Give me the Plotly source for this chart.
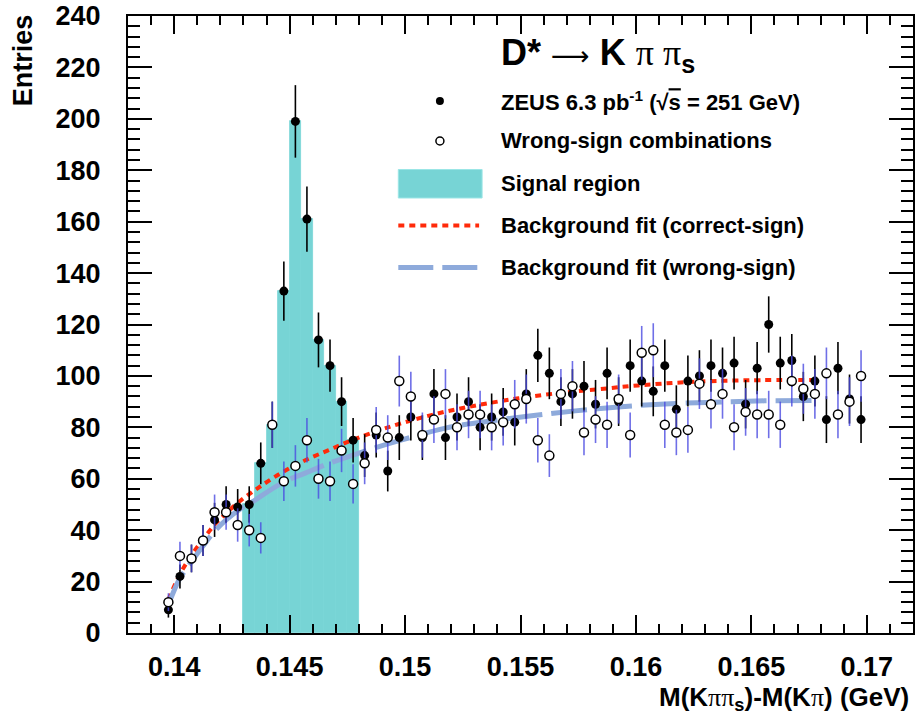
import numpy as np
import plotly.graph_objects as go

# ---------------- data ----------------
bin_centers = [0.13975, 0.14025, 0.14075, 0.14125, 0.14175, 0.14225, 0.14275, 0.14325,
               0.14375, 0.14425, 0.14475, 0.14525, 0.14575, 0.14625, 0.14675, 0.14725,
               0.14775, 0.14825, 0.14875, 0.14925, 0.14975, 0.15025, 0.15075, 0.15125,
               0.15175, 0.15225, 0.15275, 0.15325, 0.15375, 0.15425, 0.15475, 0.15525,
               0.15575, 0.15625, 0.15675, 0.15725, 0.15775, 0.15825, 0.15875, 0.15925,
               0.15975, 0.16025, 0.16075, 0.16125, 0.16175, 0.16225, 0.16275, 0.16325,
               0.16375, 0.16425, 0.16475, 0.16525, 0.16575, 0.16625, 0.16675, 0.16725,
               0.16775, 0.16825, 0.16875, 0.16925, 0.16975]
bin_width = 0.0005

correct_sign = [9, 22, 29, 36, 44, 50, 49, 50, 66, 81, 133, 199, 161, 114, 104, 90,
                75, 69, 77, 63, 76, 84, 76, 93, 76, 84, 90, 80, 84, 86, 82, 93,
                108, 101, 90, 93, 96, 89, 101, 90, 104, 98, 94, 104, 87, 98, 100, 104,
                101, 105, 89, 103, 120, 105, 106, 92, 98, 83, 103, 91, 83]

wrong_sign = [12, 30, 29, 36, 47, 47, 42, 40, 37, 81, 59, 65, 75, 60, 59, 71,
              58, 66, 79, 76, 98, 92, 77, 83, 93, 80, 85, 85, 80, 82, 89, 91,
              75, 69, 93, 96, 78, 83, 81, 91, 77, 109, 110, 81, 78, 79, 97, 89,
              93, 80, 86, 85, 85, 81, 98, 95, 93, 101, 85, 90, 100]

signal_lo, signal_hi = 0.143, 0.148

fit_cs_x = [0.13975, 0.14023, 0.14073, 0.14122, 0.14174, 0.14225, 0.14273, 0.14325,
            0.14381, 0.14468, 0.14570, 0.14671, 0.14770, 0.14873, 0.14973, 0.15146,
            0.15319, 0.15492, 0.15664, 0.15837, 0.16010, 0.16226, 0.16485, 0.16779]
fit_cs_y = [13, 22.5, 30, 36, 42, 46.5, 50.5, 54, 57.5, 62.5, 67.3, 71.2, 75, 78.4, 81.3,
            85.5, 88.7, 91.3, 93.3, 94.8, 96.3, 97.6, 98.3, 98.4]

fit_ws_x = [0.13975, 0.14023, 0.14073, 0.14124, 0.14174, 0.14225, 0.14282, 0.14338,
            0.14468, 0.14570, 0.14671, 0.14800, 0.14887, 0.14986, 0.15175, 0.15348,
            0.15548, 0.15737, 0.15937, 0.16125, 0.16341, 0.16557, 0.16779]
fit_ws_y = [11, 21, 27.5, 33.7, 39.5, 44, 48, 51, 58.4, 62.3, 66, 70, 72.5, 75.1, 79.7,
            82.2, 84.5, 86.4, 88, 89.1, 89.8, 90.3, 90.4]

x_tick_vals = [0.14, 0.145, 0.15, 0.155, 0.16, 0.165, 0.17]
x_tick_text = ["0.14", "0.145", "0.15", "0.155", "0.16", "0.165", "0.17"]
y_tick_vals = [0, 20, 40, 60, 80, 100, 120, 140, 160, 180, 200, 220, 240]

legend_labels = ["ZEUS 6.3 pb<sup>-1</sup> (√<span style='text-decoration:overline'>s</span> = 251 GeV)",
                 "Wrong-sign combinations",
                 "Signal region",
                 "Background fit (correct-sign)",
                 "Background fit (wrong-sign)"]

# ---------------- styling ----------------
FONT = "Liberation Sans, Arial, Helvetica, sans-serif"
SERIF = "Liberation Serif, DejaVu Serif, serif"
CYAN = "#77d4d5"
RED = "#ff2a0a"
BLUE_FIT = "#8eaadb"
BLUE_ERR = "rgba(75,75,225,0.8)"

W, H = 916, 717
ML, MR, MT, MB = 128, 1, 16, 84
PW, PH = W - ML - MR, H - MT - MB


def px(xp):
    return (xp - ML) / PW


def py(yp):
    return (H - MB - yp) / PH


xc = np.array(bin_centers)
cs = np.array(correct_sign, dtype=float)
ws = np.array(wrong_sign, dtype=float)
sig = (xc > signal_lo) & (xc < signal_hi)

fig = go.Figure()

fig.add_trace(go.Bar(x=xc[sig], y=cs[sig], width=bin_width,
                     marker=dict(color=CYAN, line=dict(color=CYAN, width=0.8)),
                     showlegend=False, hoverinfo="skip"))

fig.add_trace(go.Scatter(x=fit_cs_x, y=fit_cs_y, mode="lines", line_shape="spline",
                         line=dict(color=RED, width=4, dash="6px,5px"), showlegend=False))
fig.add_trace(go.Scatter(x=fit_ws_x, y=fit_ws_y, mode="lines", line_shape="spline",
                         line=dict(color=BLUE_FIT, width=5, dash="36px,9px"), showlegend=False))

fig.add_trace(go.Scatter(x=xc, y=cs, mode="markers",
                         marker=dict(symbol="circle", size=9, color="black"),
                         error_y=dict(type="data", array=np.sqrt(cs), color="black",
                                      thickness=1.6, width=0),
                         showlegend=False))
fig.add_trace(go.Scatter(x=xc, y=ws, mode="markers",
                         marker=dict(symbol="circle", size=9, color="white",
                                     line=dict(color="black", width=1.5)),
                         error_y=dict(type="data", array=np.sqrt(ws), color=BLUE_ERR,
                                      thickness=1.6, width=0),
                         showlegend=False))

# ---------------- custom legend (on hidden overlay axes in plot-fraction units) ----------------
leg_sym_x = 440.7
leg_rows = [101, 141, 183.5, 225.5, 267.5]
fig.add_trace(go.Scatter(x=[px(leg_sym_x)], y=[py(leg_rows[0])], xaxis="x2", yaxis="y2",
                         mode="markers", marker=dict(size=8, color="black"), showlegend=False))
fig.add_trace(go.Scatter(x=[px(leg_sym_x)], y=[py(leg_rows[1])], xaxis="x2", yaxis="y2",
                         mode="markers", marker=dict(size=8, color="white",
                                                     line=dict(color="black", width=1.5)),
                         showlegend=False))
fig.add_trace(go.Scatter(x=[px(399), px(480)], y=[py(leg_rows[3])] * 2, xaxis="x2", yaxis="y2",
                         mode="lines", line=dict(color=RED, width=4, dash="6px,5px"),
                         showlegend=False))
fig.add_trace(go.Scatter(x=[px(399), px(480)], y=[py(leg_rows[4])] * 2, xaxis="x2", yaxis="y2",
                         mode="lines", line=dict(color=BLUE_FIT, width=5, dash="35px,9px"),
                         showlegend=False))

shapes = [dict(type="rect", xref="paper", yref="paper",
               x0=px(399), x1=px(483), y0=py(198), y1=py(169.5),
               fillcolor=CYAN, line=dict(color="#9be6e6", width=1), layer="above")]

annotations = []
for lab, row in zip(legend_labels, leg_rows):
    annotations.append(dict(text="<b>" + lab + "</b>", xref="paper", yref="paper",
                            x=px(500), y=py(row), xanchor="left", yanchor="middle",
                            showarrow=False, font=dict(family=FONT, size=22, color="black")))

annotations.append(dict(
    text="<b>D*</b> <span style='font-family:DejaVu Sans;font-size:27px'>⟶</span> <b>K</b> "
         "<span style='font-family:" + SERIF + "'>π π</span><sub><b>s</b></sub>",
    xref="paper", yref="paper", x=px(500), y=py(55), xanchor="left", yanchor="middle",
    showarrow=False, font=dict(family=FONT, size=36, color="black")))

annotations.append(dict(
    text="<b>M(K</b><span style='font-family:" + SERIF + "'>ππ</span><sub><b>s</b></sub>"
         "<b>)-M(K</b><span style='font-family:" + SERIF + "'>π</span><b>) (GeV)</b>",
    xref="paper", yref="paper", x=px(913), y=py(698), xanchor="right", yanchor="middle",
    showarrow=False, font=dict(family=FONT, size=26, color="black")))

annotations.append(dict(
    text="<b>Entries</b>", textangle=-90,
    xref="paper", yref="paper", x=px(23), y=py(12), xanchor="center", yanchor="top",
    showarrow=False, font=dict(family=FONT, size=27, color="black")))

fig.update_layout(
    width=W, height=H,
    margin=dict(l=ML, r=MR, t=MT, b=MB),
    paper_bgcolor="white", plot_bgcolor="white",
    bargap=0, showlegend=False,
    shapes=shapes, annotations=annotations,
    xaxis=dict(range=[0.138, 0.172], showgrid=False, zeroline=False,
               showline=True, linecolor="black", linewidth=2, mirror="ticks",
               ticks="inside", ticklen=18, tickwidth=1.5, tickcolor="black",
               tickvals=x_tick_vals, ticktext=x_tick_text,
               tickfont=dict(family=FONT, size=27, color="black", weight="bold"),
               ticklabelstandoff=9,
               minor=dict(ticks="inside", ticklen=9, tickwidth=1.5, tickcolor="black",
                          dtick=0.001, tick0=0.14, showgrid=False)),
    yaxis=dict(range=[0, 240], showgrid=False, zeroline=False,
               showline=True, linecolor="black", linewidth=2, mirror="ticks",
               ticks="inside", ticklen=24, tickwidth=1.5, tickcolor="black",
               tickvals=y_tick_vals,
               tickfont=dict(family=FONT, size=27, color="black", weight="bold"),
               ticklabelstandoff=20,
               minor=dict(ticks="inside", ticklen=12, tickwidth=1.5, tickcolor="black",
                          dtick=4, tick0=0, showgrid=False)),
    xaxis2=dict(range=[0, 1], overlaying="x", visible=False, fixedrange=True),
    yaxis2=dict(range=[0, 1], overlaying="y", visible=False, fixedrange=True),
)

fig.write_html("out.html")
